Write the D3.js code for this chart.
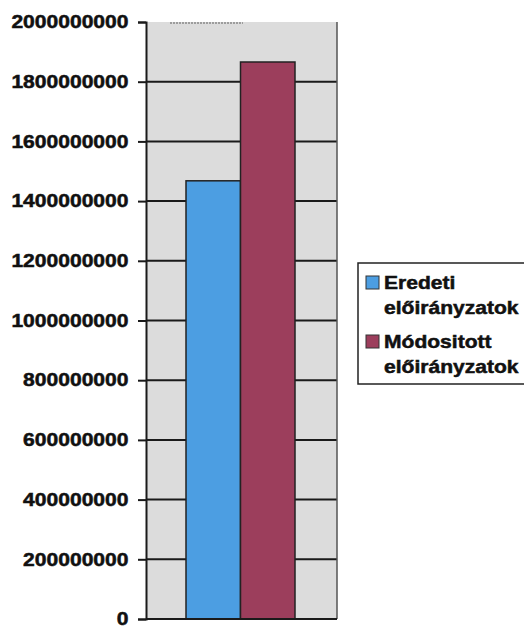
<!DOCTYPE html>
<html><head><meta charset="utf-8">
<script src="https://cdn.jsdelivr.net/npm/d3@7"></script>
<style>body{margin:0;background:#fff}text{font-family:"Liberation Sans",Arial,sans-serif;font-weight:bold;fill:#111}</style>
</head><body><svg id="c" width="524" height="629"></svg>
<script>
const series = ["Eredeti előirányzatok", "Módositott előirányzatok"];
const seriesLines = [["Eredeti","előirányzatok"],["Módositott","előirányzatok"]];
const values = [1468000000, 1866000000];
const colors = ["#4c9ee2", "#9c3e5c"];
const ticks = [0,200000000,400000000,600000000,800000000,1000000000,1200000000,1400000000,1600000000,1800000000,2000000000];

const svg = d3.select("#c");
const L = 146, R = 337, T = 22, B = 619;
const y = d3.scaleLinear().domain([0, 2000000000]).range([B, T]);
const x = d3.scaleBand().domain(series).range([186, 295]).padding(0);
const SX = 1.17;

svg.append("rect").attr("x", L).attr("y", T).attr("width", R - L).attr("height", B - T).attr("fill", "#dcdcdc");

// gridlines
svg.append("g").selectAll("line").data(ticks.filter(t => t > 0 && t < 2000000000)).join("line")
  .attr("x1", L).attr("x2", R).attr("y1", d => y(d)).attr("y2", d => y(d))
  .attr("stroke", "#1a1a1a").attr("stroke-width", 2);

// bars
svg.append("g").selectAll("rect").data(values).join("rect")
  .attr("x", (d, i) => x(series[i])).attr("width", x.bandwidth())
  .attr("y", d => y(d)).attr("height", d => B - y(d))
  .attr("fill", (d, i) => colors[i]).attr("stroke", "#222").attr("stroke-width", 1.5);

// right border
svg.append("line").attr("x1", R).attr("x2", R).attr("y1", T).attr("y2", B).attr("stroke", "#555").attr("stroke-width", 1.5);
// top short mark
svg.append("line").attr("x1", 170).attr("x2", 243).attr("y1", T + 1).attr("y2", T + 1).attr("stroke", "#888").attr("stroke-width", 1.5).attr("stroke-dasharray", "2,1");

// y axis
const axis = d3.axisLeft(y).tickValues(ticks).tickSize(8).tickPadding(7).tickFormat(d3.format("d"));
const ga = svg.append("g").attr("transform", `translate(${L},0)`).call(axis);
ga.select(".domain").attr("stroke", "#1a1a1a").attr("stroke-width", 2);
ga.selectAll(".tick line").attr("stroke", "#1a1a1a").attr("stroke-width", 2);
ga.selectAll("text").attr("font-size", 18).attr("transform", `scale(${SX},1)`)
  .attr("stroke", "#111").attr("stroke-width", 0.5)
  .style("font-family", '"Liberation Sans",Arial,sans-serif').style("font-weight", "bold").attr("fill", "#111");
// bottom baseline
svg.append("line").attr("x1", L).attr("x2", R).attr("y1", B).attr("y2", B).attr("stroke", "#1a1a1a").attr("stroke-width", 2);

// legend
const lg = svg.append("g");
lg.append("rect").attr("x", 358).attr("y", 263).attr("width", 175).attr("height", 121)
  .attr("fill", "#fff").attr("stroke", "#222").attr("stroke-width", 1.5);
const rowY = [289, 348];
series.forEach((s, i) => {
  lg.append("rect").attr("x", 366).attr("y", rowY[i] - 13).attr("width", 13).attr("height", 13)
    .attr("fill", colors[i]).attr("stroke", "#333").attr("stroke-width", 1);
  seriesLines[i].forEach((ln, j) => {
    lg.append("g").attr("transform", `translate(384,${rowY[i] + j * 25}) scale(${SX},1)`)
      .append("text").attr("font-size", 18).attr("stroke", "#111").attr("stroke-width", 0.5).text(ln);
  });
});
</script></body></html>
